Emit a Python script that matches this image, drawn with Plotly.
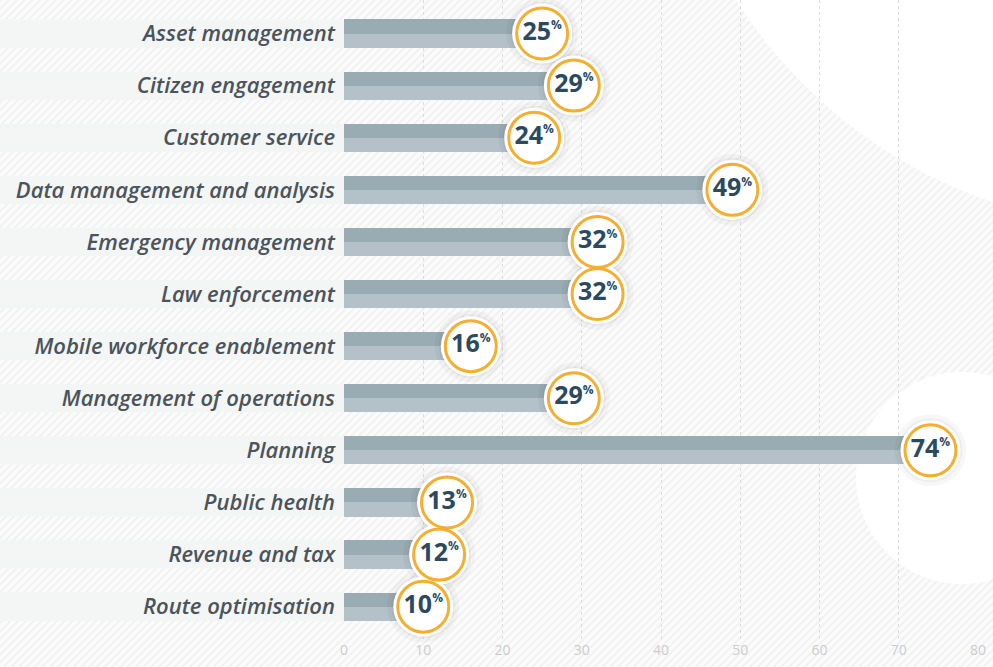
import base64
import plotly.graph_objects as go

categories = ["Asset management", "Citizen engagement", "Customer service",
              "Data management and analysis", "Emergency management", "Law enforcement",
              "Mobile workforce enablement", "Management of operations", "Planning",
              "Public health", "Revenue and tax", "Route optimisation"]
values = [25, 29, 24, 49, 32, 32, 16, 29, 74, 13, 12, 10]
x_ticks = [0, 10, 20, 30, 40, 50, 60, 70, 80]

W, H = 993, 667
ML, MR, MT, MB = 344, 15, 0, 27
PW, PH = W - ML - MR, H - MT - MB

pos = list(range(len(categories)))

# background: faint diagonal hatching with two large white discs
svg = f'''<svg xmlns="http://www.w3.org/2000/svg" width="{W}" height="{H}" viewBox="0 0 {W} {H}">
<defs><pattern id="h" width="5.5" height="5.5" patternUnits="userSpaceOnUse" patternTransform="rotate(45)">
<rect width="5.5" height="5.5" fill="#fbfbfb"/><line x1="1" y1="0" x2="1" y2="5.5" stroke="#efefef" stroke-width="1.4"/></pattern></defs>
<rect width="{W}" height="{H}" fill="url(#h)"/>
<circle cx="1150" cy="-262" r="490" fill="#ffffff"/>
<circle cx="962" cy="478" r="106" fill="#ffffff"/>
</svg>'''
bg_uri = "data:image/svg+xml;base64," + base64.b64encode(svg.encode()).decode()

fig = go.Figure()

half = 0.27
# light full bar
fig.add_trace(go.Bar(y=pos, x=values, orientation="h", base=0, offset=-half, width=2 * half,
                     marker=dict(color="#b4c1c8", line=dict(width=0)), hoverinfo="skip",
                     showlegend=False))
# darker upper half
fig.add_trace(go.Bar(y=pos, x=values, orientation="h", base=0, offset=-half, width=half,
                     marker=dict(color="#99abb3", line=dict(width=0)), hoverinfo="skip",
                     showlegend=False))
# shadow halo
fig.add_trace(go.Scatter(x=values, y=pos, mode="markers",
                         marker=dict(size=72, color="rgba(0,0,0,0.03)", line=dict(width=0)),
                         hoverinfo="skip", showlegend=False, cliponaxis=False))
fig.add_trace(go.Scatter(x=values, y=pos, mode="markers",
                         marker=dict(size=64, color="rgba(0,0,0,0.04)", line=dict(width=0)),
                         hoverinfo="skip", showlegend=False, cliponaxis=False))
# white outer ring
fig.add_trace(go.Scatter(x=values, y=pos, mode="markers",
                         marker=dict(size=60, color="#ffffff", line=dict(width=0)),
                         hoverinfo="skip", showlegend=False, cliponaxis=False))
# orange ring with value
labels = [f'{v}<sup><span style="font-size:12px">%</span></sup>' for v in values]
fig.add_trace(go.Scatter(x=values, y=pos, mode="markers+text", text=labels,
                         textposition="middle center",
                         textfont=dict(family="Open Sans", size=25, color="#2c4a5f", weight=700),
                         marker=dict(size=51, color="#ffffff", line=dict(width=3, color="#f5ae2f")),
                         hoverinfo="skip", showlegend=False, cliponaxis=False))

shapes = []
for p in pos:
    shapes.append(dict(type="rect", xref="paper", yref="y", layer="below",
                       x0=-ML / PW, x1=0, y0=p - half, y1=p + half,
                       fillcolor="#f4f5f5", line=dict(width=0)))

fig.update_layout(
    width=W, height=H,
    margin=dict(l=ML, r=MR, t=MT, b=MB, autoexpand=False),
    paper_bgcolor="#ffffff", plot_bgcolor="rgba(0,0,0,0)",
    barmode="overlay", bargap=0,
    shapes=shapes,
    images=[dict(source=bg_uri, xref="paper", yref="paper", x=-ML / PW, y=1 + MT / PH,
                 sizex=W / PW, sizey=H / PH, xanchor="left", yanchor="top",
                 sizing="stretch", layer="below")],
    xaxis=dict(range=[0, 80], tickvals=x_ticks, showgrid=True, gridcolor="#dddddd",
               griddash="3px,3px", gridwidth=1, zeroline=False, showline=False,
               tickfont=dict(family="Open Sans", size=14, color="#cccccc"), ticks=""),
    yaxis=dict(range=[11.64, -0.643], tickvals=pos, ticktext=categories,
               showgrid=False, zeroline=False, showline=False, ticks="",
               ticklabelstandoff=8,
               tickfont=dict(family="Open Sans", size=22, color="#4a545a", weight=600,
                             style="italic")),
)

fig.write_html("out.html", config={"displayModeBar": False},
               post_script="document.body.style.margin='0';document.body.style.padding='0';")
